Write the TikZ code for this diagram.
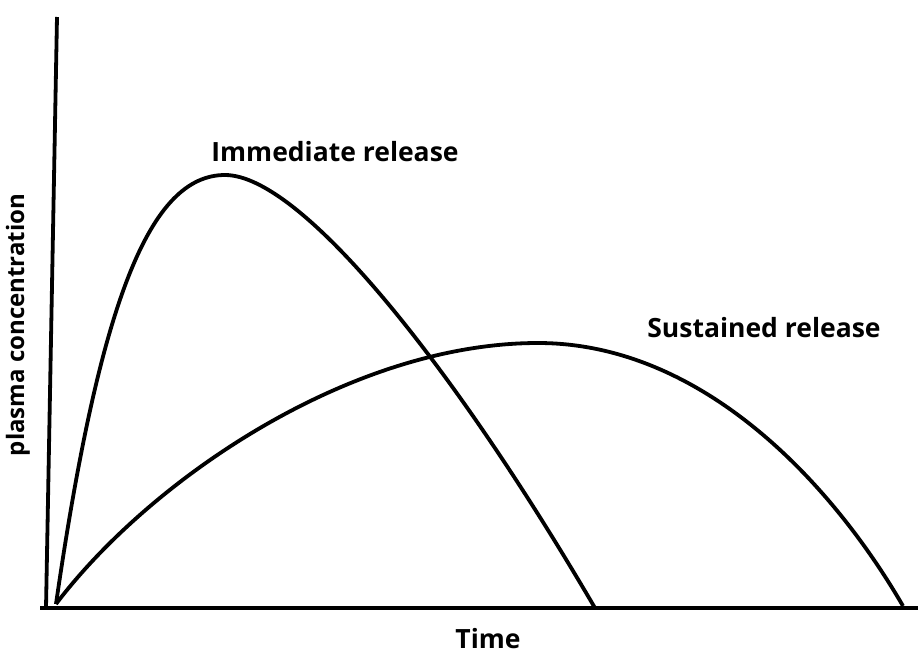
\documentclass[tikz,border=0pt]{standalone}
\usepackage{fontspec}
\setmainfont{Open Sans}
\begin{document}
\begin{tikzpicture}[x=1pt,y=-1pt,
  curve/.style={line width=3.8pt},
  axis/.style={line width=3.8pt},
  lbl/.style={font=\bfseries\fontsize{26.5}{30}\selectfont, inner sep=0pt},
  ylbl/.style={font=\bfseries\fontsize{24}{28}\selectfont, inner sep=0pt, rotate=90}]
\useasboundingbox (0,0) rectangle (918,659);
\coordinate (ytop) at (57,17);
\coordinate (ybot) at (46,608);
\coordinate (xl) at (40,608);
\coordinate (xr) at (918,608);
\coordinate (O) at (56,604);
\coordinate (ipk) at (225,175);
\coordinate (iend) at (595,608);
\coordinate (spk) at (538,343);
\coordinate (send) at (903,606);
\draw[axis] (ytop) -- (ybot);
\draw[axis] (xl) -- (xr);
\draw[curve] (O) .. controls (100,300) and (150,175) .. (ipk)
  .. controls (300,175) and (450,360) .. (iend);
\draw[curve] (O) .. controls (150,480) and (350,343) .. (spk)
  .. controls (700,343) and (830,480) .. (send);
\node[lbl] (il) at (335,152) {Immediate release};
\node[lbl] (sl) at (764,328) {Sustained release};
\node[ylbl] (yl) at (18,325) {plasma concentration};
\node[lbl, anchor=south] (tl) at (488,649) {Time};
\end{tikzpicture}
\end{document}
